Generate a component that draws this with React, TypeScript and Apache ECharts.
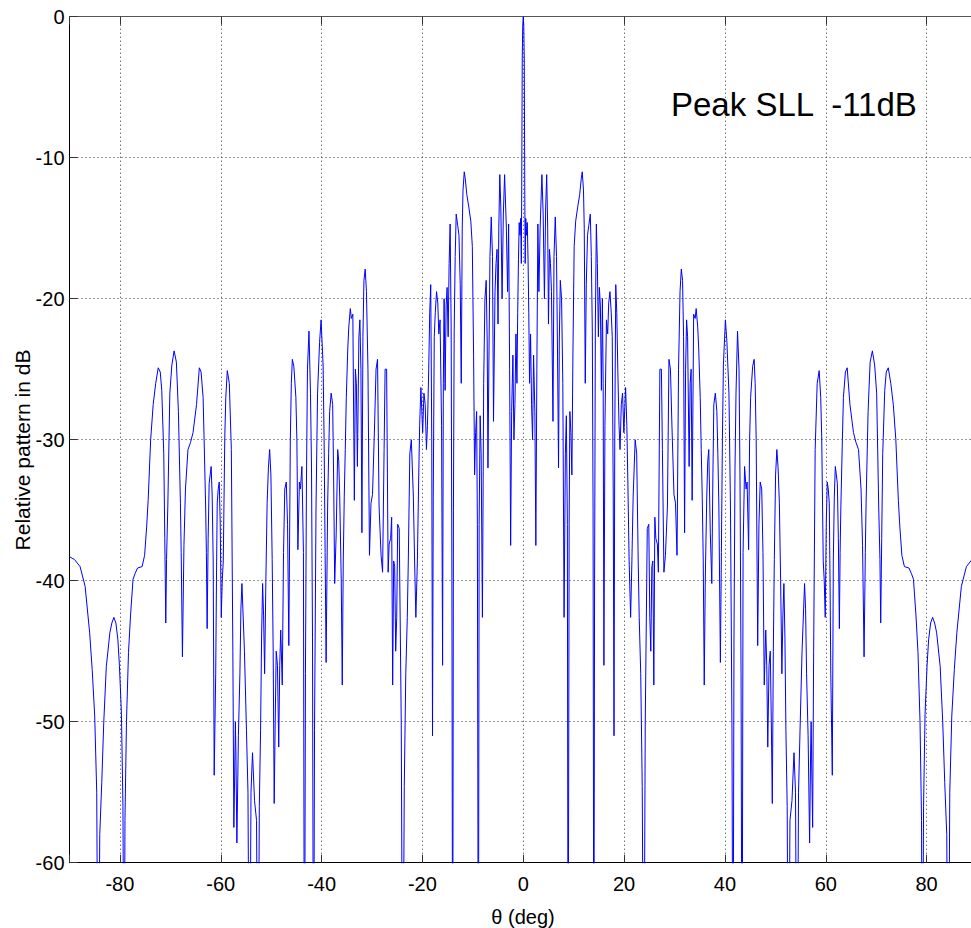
import React, { useEffect, useRef } from 'react';
import * as echarts from 'echarts';

const FONT = '"Liberation Sans", Arial, Helvetica, sans-serif';

// Tick labels shown on the theta axis
const X_TICKS = [-80, -60, -40, -20, 0, 20, 40, 60, 80];
// dB axis
const Y_MIN = -60;
const Y_MAX = 0;

// Right half of the (symmetric) pattern: [theta deg, dB]
// values below -60 stand for nulls that run off the bottom of the plot.
const LOBES_0_20 = [
  [0, 0], [0.1, -0.6], [0.2, -3], [0.3, -12], [0.38, -17.5], [0.5, -14.3], [0.65, -15.5], [0.8, -14.6],
  [0.95, -17.2], [1.1, -21], [1.25, -26], [1.45, -22.5], [1.65, -27.5], [1.85, -30], [2.05, -24], [2.3, -28],
  [2.5, -37.5], [2.7, -25], [2.9, -14.7], [3.1, -19.5], [3.35, -15], [3.7, -11.2], [3.95, -14], [4.2, -20],
  [4.45, -13.5], [4.65, -11.2], [4.85, -15], [5.0, -21.8], [5.2, -16.5], [5.4, -17.5], [5.6, -19.5], [5.9, -28.7],
  [6.1, -17], [6.35, -14.2], [6.6, -17], [6.8, -24], [7.0, -32], [7.15, -23], [7.35, -18.7], [7.6, -20],
  [7.85, -26], [8.1, -42.6], [8.35, -31], [8.55, -28.3], [8.75, -36], [8.9, -75], [9.1, -36], [9.25, -28],
  [9.45, -29.5], [9.65, -32.5], [9.85, -24], [10.1, -16.3], [10.4, -14.5], [10.8, -13.5], [11.2, -12.6], [11.5, -11.5],
  [11.7, -11], [11.95, -12.3], [12.1, -15], [12.3, -26], [12.5, -19], [12.75, -15.5], [13.0, -14.8], [13.3, -14],
  [13.5, -17], [13.7, -22.3], [13.85, -35], [14.0, -75], [14.15, -40], [14.3, -22], [14.5, -14.7], [14.7, -17.5],
  [14.9, -22.7], [15.1, -19.2], [15.3, -20.5], [15.5, -26.5], [15.7, -20], [15.85, -26], [16.0, -46], [16.2, -29],
  [16.5, -21.5], [16.75, -22.5], [16.95, -20.3], [17.2, -19.5], [17.45, -21], [17.65, -22.7], [17.85, -34], [18.0, -51],
  [18.15, -30], [18.35, -19], [18.55, -21], [18.75, -25], [19.0, -29], [19.2, -30.7], [19.45, -27.5], [19.7, -26.7],
  [19.95, -29.5],
];

const LOBES_20_44 = [
  [20.3, -26.3], [20.55, -29], [20.75, -33], [21.0, -38.6], [21.3, -42.6], [21.55, -38.6], [21.8, -34], [22.2, -30],
  [22.5, -31], [22.8, -38.6], [23.0, -42.6], [23.3, -46.6], [23.6, -54.6], [23.9, -75], [24.2, -50], [24.6, -36.3],
  [24.9, -36], [25.1, -42.6], [25.3, -45], [25.5, -39], [25.7, -38.6], [25.9, -47.4], [26.1, -35.5], [26.3, -37],
  [26.6, -37.4], [26.8, -39.4], [27.1, -25], [27.4, -25], [27.6, -30.7], [27.9, -39.4], [28.2, -38.2], [28.6, -34.7],
  [28.9, -24.3], [29.2, -25], [29.5, -29.1], [29.9, -33.9], [30.2, -34.5], [30.5, -38.2], [30.8, -25], [31.1, -19.5],
  [31.35, -17.9], [31.6, -18.7], [31.8, -22.7], [32.0, -36.6], [32.2, -25], [32.4, -21.5], [32.6, -22.7], [32.9, -31.9],
  [33.1, -26], [33.3, -25], [33.5, -34.3], [33.8, -21.1], [34.1, -21.4], [34.3, -20.7], [34.6, -22], [34.8, -23.5],
  [35.1, -27], [35.3, -30.7], [35.5, -34], [35.7, -38.6], [35.9, -47.4], [36.1, -40], [36.4, -34], [36.6, -31.5],
  [36.8, -30.7], [37.1, -36.6], [37.4, -40.2], [37.6, -33], [37.8, -27.5], [38.1, -26.7], [38.4, -28], [38.6, -31],
  [38.8, -34.7], [39.1, -45.8], [39.3, -38], [39.5, -30], [39.7, -24.7], [40.1, -21.5], [40.4, -23.1], [40.8, -26.7],
  [41.1, -34.7], [41.4, -50.6], [41.6, -75], [41.8, -44], [42.0, -32], [42.2, -26.7], [42.5, -22.3], [42.8, -25],
  [43.0, -33], [43.2, -46.6], [43.4, -75], [43.6, -38], [43.9, -31.9],
];

const LOBES_44_64 = [
  [44.2, -33.5], [44.4, -33], [44.7, -37.8], [44.9, -30], [45.1, -27], [45.5, -24.8], [45.8, -24.3], [46.0, -26],
  [46.2, -30], [46.5, -44.6], [46.75, -36], [47.0, -33], [47.3, -33.5], [47.55, -38], [47.8, -47.4], [48.1, -43.5],
  [48.3, -46], [48.5, -51.8], [48.75, -46], [49.0, -45], [49.2, -50], [49.4, -55.8], [49.6, -45], [49.8, -38.5],
  [50.05, -32.5], [50.3, -30.7], [50.55, -32], [50.8, -34.5], [51.05, -40], [51.3, -46.6], [51.5, -42.5], [51.7, -40.2],
  [51.9, -44], [52.1, -50.6], [52.35, -56], [52.6, -75], [52.9, -57], [53.3, -55.6], [53.7, -52.2], [54.0, -55],
  [54.3, -75], [54.6, -55], [54.9, -50.6], [55.3, -45], [55.8, -40.2], [56.0, -42], [56.2, -46.6], [56.5, -51],
  [56.8, -58.6], [57.0, -52], [57.1, -50], [57.25, -54], [57.4, -57.5], [57.6, -45], [57.9, -30.7], [58.3, -26],
  [58.7, -25.1], [59.0, -27], [59.2, -29.8], [59.5, -38.6], [59.7, -40], [59.9, -42.6], [60.1, -36], [60.3, -33],
  [60.5, -33.5], [60.7, -34.5], [60.85, -40], [61.0, -46.6], [61.3, -53.8], [61.5, -38.6], [61.7, -34], [61.9, -31.9],
  [62.1, -32.5], [62.3, -33.1], [62.5, -37], [62.7, -43.4], [62.85, -38], [63.0, -34.7], [63.3, -30], [63.5, -27],
  [63.9, -25.2],
];

const LOBES_64_90 = [
  [64.25, -24.9], [64.8, -27.5], [65.5, -29.5], [66.0, -30.2], [66.5, -30.7], [67.0, -33.5], [67.3, -37.5], [67.6, -45.4],
  [67.85, -38], [68.0, -34.5], [68.4, -28], [68.8, -24.5], [69.25, -23.7], [69.7, -24.7], [70.1, -26.7], [70.5, -34.7],
  [70.75, -38.5], [70.9, -43], [71.1, -37], [71.3, -31], [71.7, -26.5], [72.0, -25.2], [72.4, -24.9], [72.9, -26],
  [73.4, -27.5], [73.9, -30], [74.4, -34.3], [74.7, -36.2], [75.1, -38.2], [75.6, -39], [76.5, -39.1], [77.0, -39.5],
  [77.4, -39.9], [77.9, -42.5], [78.3, -45.1], [78.7, -50], [79.0, -57], [79.15, -75], [79.4, -56], [79.7, -49.4],
  [80.1, -46], [80.4, -44.2], [80.8, -43], [81.2, -42.6], [81.6, -43], [82.0, -43.7], [82.7, -46.1], [83.2, -50],
  [83.6, -54.3], [84.0, -58], [84.3, -75], [84.6, -55], [85.0, -49.6], [85.5, -46.3], [86.0, -43.7], [86.9, -40.4],
  [87.9, -39], [89.0, -38.5], [90, -38.3],
];

const ANNOTATION = 'Peak SLL  -11dB';
const X_NAME = 'θ (deg)';
const Y_NAME = 'Relative pattern in dB';

export default function App() {
  const ref = useRef<HTMLDivElement>(null);

  useEffect(() => {
    if (!ref.current) return;
    const chart = echarts.init(ref.current, null, { renderer: 'svg' });

    const right = [...LOBES_0_20, ...LOBES_20_44, ...LOBES_44_64, ...LOBES_64_90];
    // the pattern is symmetric about broadside: mirror the read half
    const left = right
      .filter((p) => p[0] > 0)
      .map(([t, v]) => [-t, v])
      .reverse();
    const data = [...left, ...right];

    const xLabelFmt = (v: number) =>
      X_TICKS.some((t) => Math.abs(t - v) < 1e-6) ? String(Math.round(v)) : '';

    chart.setOption({
      animation: false,
      backgroundColor: '#ffffff',
      grid: { left: 69.5, top: 16.7, right: 1.1, bottom: 65.3, containLabel: false },
      xAxis: [
        {
          type: 'value',
          position: 'bottom',
          min: -90,
          max: 90,
          splitNumber: 9,
          minInterval: 20,
          maxInterval: 20,
          axisLine: { show: true, onZero: false, lineStyle: { color: '#000', width: 1 } },
          axisTick: { show: true, inside: true, length: 8, lineStyle: { color: '#333', width: 1 } },
          axisLabel: {
            show: true,
            margin: 11,
            fontSize: 20,
            color: '#000',
            fontFamily: FONT,
            formatter: xLabelFmt,
          },
          splitLine: { show: true, lineStyle: { color: '#333', width: 1, type: [1, 3] } },
        },
        {
          type: 'value',
          position: 'top',
          min: -90,
          max: 90,
          splitNumber: 9,
          minInterval: 20,
          maxInterval: 20,
          axisLine: { show: true, onZero: false, lineStyle: { color: '#555', width: 1 } },
          axisTick: { show: true, inside: true, length: 8, lineStyle: { color: '#333', width: 1 } },
          axisLabel: { show: false },
          splitLine: { show: false },
        },
      ],
      yAxis: {
        type: 'value',
        min: Y_MIN,
        max: Y_MAX,
        interval: 10,
        axisLine: { show: true, onZero: false, lineStyle: { color: '#000', width: 1 } },
        axisTick: { show: true, inside: true, length: 8, lineStyle: { color: '#333', width: 1 } },
        axisLabel: { margin: 5, fontSize: 20, color: '#000', fontFamily: FONT },
        splitLine: { show: true, lineStyle: { color: '#333', width: 1, type: [1, 3] } },
      },
      series: [
        {
          type: 'line',
          xAxisIndex: 0,
          yAxisIndex: 0,
          data,
          showSymbol: false,
          symbol: 'none',
          clip: true,
          lineStyle: { color: '#0000ff', width: 1 },
        },
      ],
      graphic: [
        {
          type: 'text',
          x: 671,
          y: 104,
          style: {
            text: ANNOTATION,
            font: `33px ${FONT}`,
            fill: '#000',
            align: 'left',
            verticalAlign: 'middle',
          },
        },
        {
          type: 'text',
          x: 523,
          y: 917,
          style: {
            text: X_NAME,
            font: `20px ${FONT}`,
            fill: '#000',
            align: 'center',
            verticalAlign: 'middle',
          },
        },
        {
          type: 'text',
          x: 22,
          y: 450,
          rotation: Math.PI / 2,
          style: {
            text: Y_NAME,
            font: `21px ${FONT}`,
            fill: '#000',
            align: 'center',
            verticalAlign: 'middle',
          },
        },
      ],
    });

    return () => chart.dispose();
  }, []);

  return (
    <div
      style={{
        position: 'fixed',
        left: 0,
        top: 0,
        width: 971,
        height: 928,
        overflow: 'hidden',
        background: '#fff',
      }}
    >
      <div ref={ref} style={{ width: 980, height: 928 }} />
    </div>
  );
}
